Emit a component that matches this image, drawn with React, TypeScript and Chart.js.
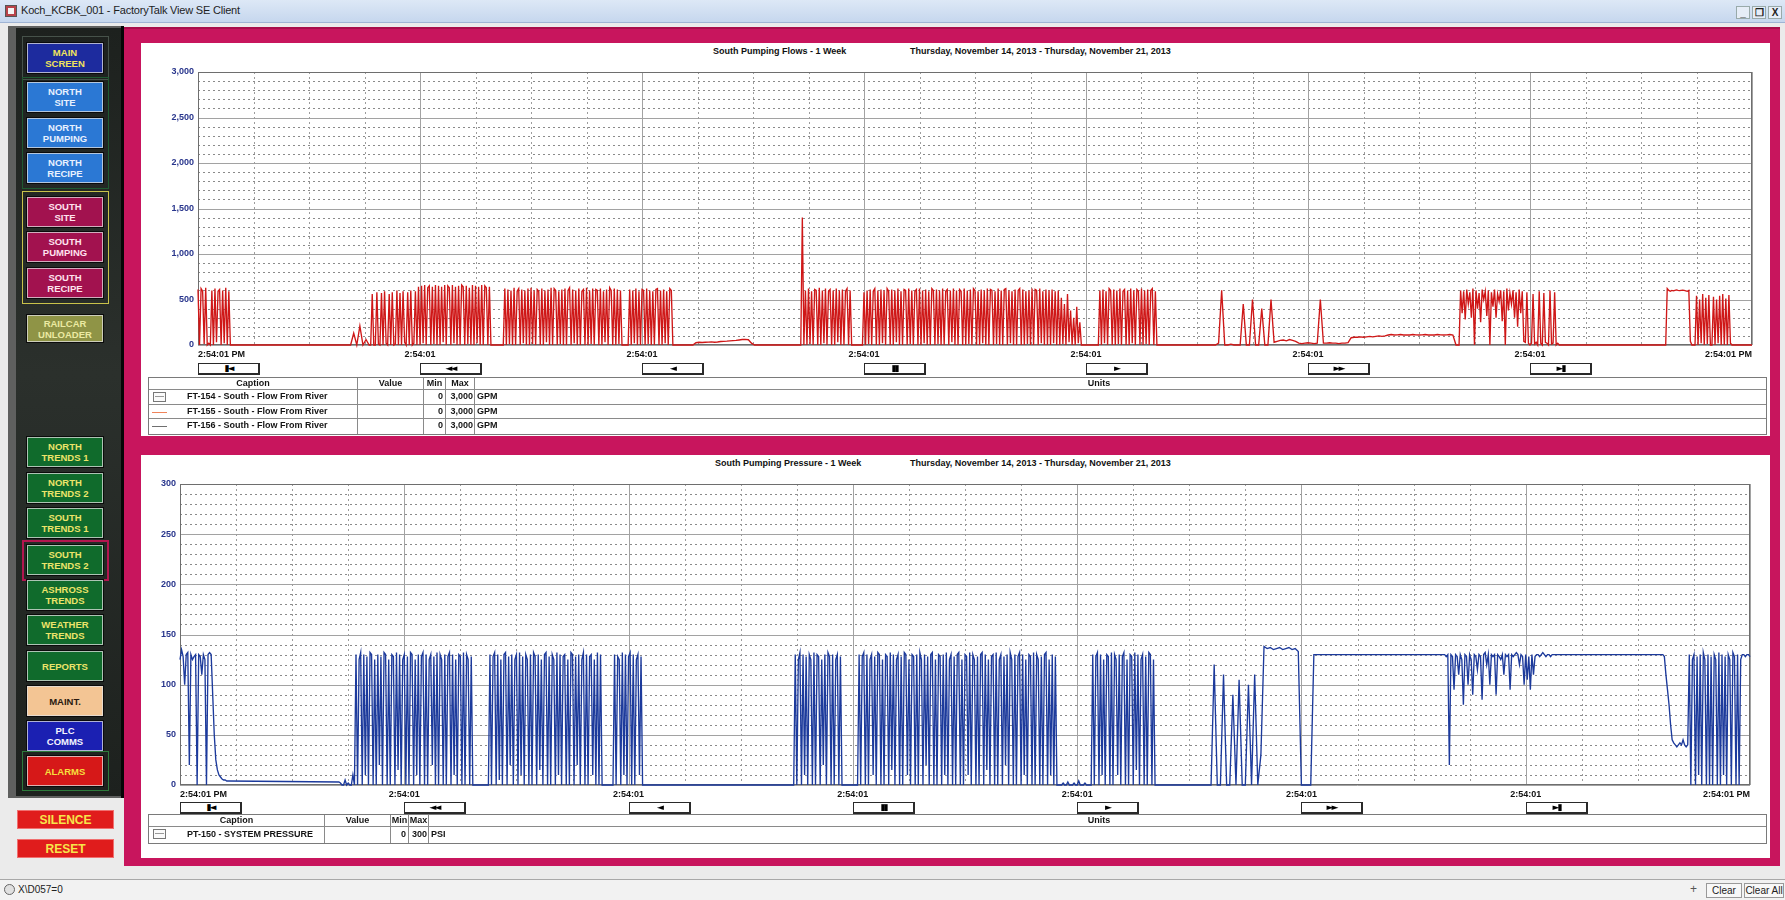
import React, { useEffect, useRef } from "react";
import { Chart, registerables } from "chart.js";

Chart.register(...registerables);

// ---------------- DATA ----------------
const WEEK_HOURS = 168;

const xTickLabels = ["2:54:01 PM", "2:54:01", "2:54:01", "2:54:01", "2:54:01", "2:54:01", "2:54:01", "2:54:01 PM"];
const flowTickValues = [0, 500, 1000, 1500, 2000, 2500, 3000];
const pressureTickValues = [0, 50, 100, 150, 200, 250, 300];
const navArrowLabels = ["\u25AE\u25C4", "\u25C4\u25C4", "\u25C4", "\u25AE\u25AE", "\u25BA", "\u25BA\u25BA", "\u25BA\u25AE"];

const flowTitle = "South Pumping Flows - 1 Week";
const pressureTitle = "South Pumping Pressure - 1 Week";
const dateRange = "Thursday, November 14, 2013 - Thursday, November 21, 2013";

const flowPenCaptions = ["FT-154 - South - Flow From River", "FT-155 - South - Flow From River", "FT-156 - South - Flow From River"];
const flowPenMin = ["0", "0", "0"];
const flowPenMax = ["3,000", "3,000", "3,000"];
const flowPenUnits = ["GPM", "GPM", "GPM"];
const pressurePenCaptions = ["PT-150 - SYSTEM PRESSURE"];
const pressurePenMin = ["0"];
const pressurePenMax = ["300"];
const pressurePenUnits = ["PSI"];

// FT-155 flow (GPM): logged runs, each with start hour and sample interval (hours)
const flowRunStartHours = [0, 16.5, 18.67, 53.5, 65, 110, 136.33, 158.67];
const flowRunStepHours = [1 / 6, 1 / 3, 1 / 6, 1 / 3, 1 / 6, 1 / 3, 1 / 6, 1 / 6];
const flowRun0 = [610, 0, 620, 590, 10, 630, 0, 20, 0, 600, 0, 620, 30, 590, 610, 0, 600, 20, 630, 0, 590, 0, 0];
const flowRun1 = [0, 130, 0, 210, 0, 60, 0];
const flowRun2 = [
  0,
  560, 0, 0, 580, 10, 0, 570, 0, 590, 20, 0, 560, 0, 580, 0, 10, 600, 0, 570, 0,
  590, 30, 0, 580, 0, 600, 0, 20, 590, 0,
  640, 0, 650, 20, 660, 0, 630, 650, 0, 640, 10, 660, 0, 650, 0, 640, 30, 660, 0, 650,
  630, 0, 660, 20, 640, 0, 650, 0, 660, 640, 0, 650, 10, 630, 0, 660, 0, 650, 20, 640,
  0, 660, 0, 650, 630, 0, 640, 0,
  0, 0, 0, 0, 0, 0, 0, 0,
  620, 0, 610, 10, 600, 0, 630, 0, 590, 620, 0, 610, 20, 600, 0, 620, 0, 630, 10, 600,
  0, 610, 590, 0, 620, 0, 600, 30, 610, 0, 630, 0, 620, 600, 0, 590, 10, 610, 0, 620,
  0, 600, 630, 0, 610, 20, 600, 0, 620, 0, 590, 610, 0, 630, 0, 600, 10, 620, 0, 610,
  600, 0, 620, 0, 590, 30, 610, 0, 630, 600, 0, 620, 0, 610, 10, 600, 0,
  0, 0, 0, 0,
  610, 0, 600, 20, 620, 0, 590, 0, 610, 600, 0, 620, 10, 600, 0, 590, 0, 610, 620, 0,
  600, 0, 610, 20, 590, 0, 620, 600, 0,
  0,
];
const flowRun3 = [0, 25, 30, 28, 30, 32, 35, 30, 33, 38, 40, 42, 45, 48, 50, 55, 60, 62, 58, 20, 0];
const flowRun4 = [
  0, 0, 1400, 0,
  600, 0, 620, 10, 590, 0, 610, 600, 0, 630, 0, 600, 20, 620, 0, 590, 610, 0, 600, 0,
  620, 30, 600, 0, 610, 0, 590, 620, 0, 600, 0,
  0, 0, 0, 0, 0, 0, 0,
  580, 0, 600, 10, 610, 0, 590, 620, 0, 600, 0, 610, 20, 600, 0, 620, 590, 0, 610, 0,
  600, 30, 620, 0, 590, 0, 610, 600, 0, 620, 10, 600, 0, 590, 610, 0, 620, 0, 600, 20,
  610, 0, 590, 0, 620, 600, 0, 610, 10, 600, 0, 620, 0, 590, 610, 0, 600, 30, 620, 0,
  600, 0, 610, 590, 0, 620, 0, 600, 10, 610, 0, 620, 600, 0, 590, 0, 610, 20, 600, 0,
  620, 0, 610, 600, 0, 590, 10, 620, 0, 600, 0, 610, 620, 0, 600, 20, 590, 0, 610, 0,
  600, 620, 0, 610, 0, 590, 10, 600, 0, 620, 0, 610, 600, 0, 620, 20, 590, 0, 610, 0,
  600, 0, 610, 20, 590, 0, 600, 0, 520, 10, 450, 0, 560, 30, 380, 0, 300, 0, 420, 20,
  250, 0,
  0, 0, 0, 0, 0, 0, 0, 0, 0, 0, 0,
  600, 0, 610, 20, 590, 0, 620, 600, 0, 610, 0, 600, 10, 620, 0, 590, 610, 0, 600, 0,
  620, 20, 600, 0, 610, 590, 0, 620, 0, 600, 10, 610, 0, 600, 620, 0, 590, 0, 0,
  0,
];
const flowRun5 = [
  0, 20, 600, 0, 0, 10, 0, 0, 0,
  450, 0, 0, 500, 0, 0, 400, 0, 0,
  500, 30, 40, 50, 55, 45, 60, 50, 40,
  20, 15, 20, 25, 20, 15, 20, 500, 20,
  20, 25, 20, 20, 15, 20, 20, 25,
  80, 85, 85, 90, 85, 90, 95, 90, 95, 100, 95, 100,
  110, 115, 110, 112, 115, 110, 112, 110, 115, 112, 110, 112, 115, 110, 112, 110, 115, 112, 110, 112, 115, 110,
  0,
];
const flowRun6 = [
  0, 600, 350, 590, 280, 610, 450, 580, 300, 620, 0, 600, 400, 570, 250, 610, 500, 590, 320, 600,
  0, 580, 420, 610, 300, 560, 480, 600, 260, 590, 0, 620, 380, 570, 450, 600, 300, 580, 200, 610,
  350, 590, 40, 30, 580, 20, 0, 20, 560, 10, 30, 0, 590, 20, 0, 570, 30, 20, 0, 600, 10, 20, 580, 0, 20, 0, 0, 0,
];
const flowRun7 = [
  0, 620, 600, 590, 600, 595, 600, 605, 600, 598, 600, 602, 600, 595, 590, 600, 40, 0, 0, 0,
  540, 0, 500, 20, 560, 0, 520, 10, 550, 0, 0, 530, 0, 500, 20, 540, 0, 560, 0, 510,
  0, 550, 20, 0, 0, 0, 0, 0, 0, 0, 0, 0, 0, 0, 0, 0, 0,
];
const flowRuns = [flowRun0, flowRun1, flowRun2, flowRun3, flowRun4, flowRun5, flowRun6, flowRun7];

// PT-150 system pressure (PSI)
const pressureRunStartHours = [0, 17, 65.67, 110.33, 135.33, 158.67];
const pressureRunStepHours = [1 / 6, 1 / 6, 1 / 6, 1 / 3, 1 / 6, 1 / 6];
const pressureRun0 = [125, 135, 128, 100, 130, 132, 20, 130, 125, 128, 130, 0, 130, 128, 110, 130, 125, 0, 130, 132, 130, 90, 50, 25, 15, 10, 8, 6, 5, 5, 4, 4];
const pressureRun1 = [
  3, 2, 0, 0, 5, 0, 2, 0, 0, 10, 0,
  130, 0, 125, 132, 0, 130, 10, 128, 0, 132, 130, 0, 125, 0, 130, 20, 128, 0, 132, 130,
  0, 125, 0, 130, 128, 0, 132, 15, 130, 0, 125, 130, 0, 128, 0, 132, 130, 0, 125, 10,
  130, 0, 128, 132, 0, 130, 0, 125, 130, 20, 128, 0, 132, 0, 130, 125, 0, 130, 0, 128,
  132, 0, 130, 10, 125, 0, 130, 128, 0, 132, 0, 130, 125, 0, 128, 0, 0,
  0, 0, 0, 0, 0, 0, 0, 0, 0,
  130, 0, 128, 132, 0, 130, 5, 125, 0, 130, 132, 0, 128, 20, 130, 0, 125, 130, 0, 132,
  10, 128, 0, 130, 125, 0, 130, 0, 132, 128, 0, 130, 15, 125, 0, 130, 132, 0, 128, 0,
  130, 125, 0, 132, 10, 130, 0, 128, 130, 0, 125, 0, 132, 130, 0, 128, 20, 130, 0, 125,
  132, 0, 130, 0, 128, 130, 10, 125, 0, 132, 0, 130, 0,
  0, 0, 0, 0, 0, 0, 0,
  130, 0, 128, 125, 0, 132, 10, 130, 0, 128, 132, 0, 130, 0, 125, 130, 10, 128, 0, 0,
  0,
];
const pressureRun2 = [
  0,
  130, 0, 125, 132, 0, 130, 10, 128, 0, 130, 125, 0, 132, 0, 130, 128, 0, 125, 20, 130,
  0, 132, 128, 0, 130, 0, 125, 130, 0, 128, 0,
  0, 0, 0, 0, 0, 0, 0, 0, 0, 0,
  130, 0, 128, 132, 0, 130, 0, 125, 130, 10, 128, 0, 132, 130, 0, 125, 0, 130, 128, 0,
  132, 15, 130, 0, 125, 130, 0, 128, 0, 132, 130, 10, 125, 0, 130, 128, 0, 130, 0, 132,
  125, 0, 130, 20, 128, 0, 130, 132, 0, 125, 0, 130, 128, 0, 130, 10, 132, 0, 125, 130,
  0, 128, 0, 130, 132, 0, 125, 0, 130, 128, 10, 132, 0, 130, 125, 0, 128, 0, 130, 132,
  0, 130, 15, 125, 0, 128, 130, 0, 132, 0, 125, 130, 0, 128, 20, 130, 0, 132, 125, 0,
  130, 0, 128, 132, 0, 130, 10, 125, 0, 130, 128, 0, 132, 0, 130, 125, 0, 128, 0, 130,
  132, 0, 125, 10, 130, 0, 128, 0, 0,
  0, 0, 2, 0, 0, 3, 0, 0, 0, 2, 0, 0, 4, 0, 0, 0, 2, 0, 0, 0, 0,
  130, 0, 128, 132, 0, 130, 10, 125, 0, 130, 128, 0, 132, 0, 130, 125, 10, 130, 0, 128,
  132, 0, 125, 0, 130, 128, 0, 132, 15, 130, 0, 125, 130, 0, 128, 0, 132, 130, 0, 125, 0,
  0,
];
const pressureRun3 = [0, 120, 0, 0, 110, 0, 0, 90, 0, 105, 0, 0, 100, 0, 110, 0, 30, 138, 136, 137, 135, 136, 137, 135, 136, 137, 135, 136, 133, 0, 0, 0, 0, 130];
const pressureRun4 = [
  130, 128, 130, 20, 130, 128, 95, 130, 128, 110, 130, 125, 80, 130, 128, 100, 130, 125, 90, 130,
  128, 115, 130, 128, 85, 130, 132, 120, 130, 100, 130, 128, 130, 90, 130, 128, 125, 130, 110, 130,
  128, 130, 95, 130, 128, 130, 132, 130, 120, 130, 128, 100, 130, 105, 128, 95, 130, 110, 128, 130,
  130, 128, 130, 132, 130, 128, 130, 130, 128, 130,
];
const pressureRun5 = [
  130, 128, 110, 95, 80, 60, 45, 42, 40, 38, 40, 42, 40, 45, 40, 38, 40, 130, 0, 125,
  130, 0, 128, 10, 130, 0, 132, 125, 0, 130, 0, 128, 0, 130, 125, 0, 132, 0, 130, 10,
  128, 0, 130, 125, 0, 132, 128, 0, 130, 0, 125, 130, 130, 128, 130, 130, 128,
];
const pressureRuns = [pressureRun0, pressureRun1, pressureRun2, pressureRun3, pressureRun4, pressureRun5];

// ---------------- HELPERS ----------------
const FONT = '"Liberation Sans", Arial, sans-serif';
const PINK = "#c8155d";

function buildPoints(starts: number[], steps: number[], runs: number[][]) {
  const pts: { x: number; y: number }[] = [];
  runs.forEach((vals, r) => vals.forEach((v, i) => pts.push({ x: starts[r] + i * steps[r], y: v })));
  return pts;
}

function gridPlugin(o: { yMax: number; yMajor: number; yMinor: number; yTicks: number[] }) {
  return {
    id: "trendGrid",
    beforeDatasetsDraw(chart: any) {
      const { ctx, chartArea: a, scales } = chart;
      const x = scales.x;
      const y = scales.y;
      ctx.save();
      ctx.lineWidth = 1;
      for (let v = 0; v <= o.yMax; v += o.yMinor) {
        const py = Math.round(y.getPixelForValue(v)) + 0.5;
        const major = v % o.yMajor === 0;
        ctx.strokeStyle = major ? "#a2a2a2" : "#8a8a8a";
        ctx.setLineDash(major ? [] : [2, 3]);
        ctx.beginPath();
        ctx.moveTo(a.left, py);
        ctx.lineTo(a.right, py);
        ctx.stroke();
      }
      for (let h = 0; h <= WEEK_HOURS; h += 6) {
        const px = Math.round(x.getPixelForValue(h)) + 0.5;
        const major = h % 24 === 0;
        ctx.strokeStyle = major ? "#a2a2a2" : "#9c9c9c";
        ctx.setLineDash(major ? [] : [2, 3]);
        ctx.beginPath();
        ctx.moveTo(px, a.top);
        ctx.lineTo(px, a.bottom);
        ctx.stroke();
      }
      ctx.setLineDash([]);
      ctx.strokeStyle = "#6e6e6e";
      ctx.strokeRect(a.left + 0.5, a.top + 0.5, a.right - a.left - 1, a.bottom - a.top - 1);
      ctx.font = `bold 9px ${FONT}`;
      ctx.fillStyle = "#28358c";
      ctx.textAlign = "right";
      ctx.textBaseline = "middle";
      o.yTicks.forEach((v) => ctx.fillText(v.toLocaleString("en-US"), a.left - 4, y.getPixelForValue(v)));
      ctx.fillStyle = "#111";
      xTickLabels.forEach((lab, i) => {
        const px = x.getPixelForValue(i * 24);
        ctx.textAlign = i === 0 ? "left" : i === xTickLabels.length - 1 ? "right" : "center";
        ctx.fillText(lab, px, a.bottom + 10);
      });
      ctx.restore();
    },
  };
}

type Rect = { left: number; top: number; width: number; height: number };

function TrendChart(p: {
  rect: Rect;
  padding: { left: number; top: number; right: number; bottom: number };
  points: { x: number; y: number }[];
  color: string;
  lineWidth: number;
  yMax: number;
  yMajor: number;
  yMinor: number;
  yTicks: number[];
}) {
  const ref = useRef<HTMLCanvasElement | null>(null);
  useEffect(() => {
    const chart = new Chart(ref.current as HTMLCanvasElement, {
      type: "line",
      data: {
        datasets: [
          {
            data: p.points,
            borderColor: p.color,
            borderWidth: p.lineWidth,
            pointRadius: 0,
            tension: 0,
            fill: false,
            clip: 3,
          } as any,
        ],
      },
      options: {
        animation: false,
        responsive: false,
        maintainAspectRatio: false,
        events: [],
        layout: { padding: p.padding },
        plugins: { legend: { display: false }, tooltip: { enabled: false } },
        scales: {
          x: { type: "linear", display: false, min: 0, max: WEEK_HOURS },
          y: { type: "linear", display: false, min: 0, max: p.yMax },
        },
      },
      plugins: [gridPlugin({ yMax: p.yMax, yMajor: p.yMajor, yMinor: p.yMinor, yTicks: p.yTicks })],
    });
    return () => chart.destroy();
  }, []);
  return (
    <canvas
      ref={ref}
      width={p.rect.width}
      height={p.rect.height}
      style={{ position: "absolute", left: p.rect.left, top: p.rect.top, width: p.rect.width, height: p.rect.height }}
    />
  );
}

function NavButton(p: { lines: string[]; top: number; height?: number; bg: string; fg: string }) {
  return (
    <div
      style={{
        position: "absolute",
        left: 27,
        top: p.top,
        width: 76,
        height: p.height || 30,
        background: p.bg,
        color: p.fg,
        border: "1px solid rgba(225,225,225,0.75)",
        boxShadow: "0 0 0 1px #0b0b0b",
        boxSizing: "border-box",
        display: "flex",
        flexDirection: "column",
        alignItems: "center",
        justifyContent: "center",
        font: `bold 9.5px ${FONT}`,
        lineHeight: "11px",
        textAlign: "center",
      }}
    >
      {p.lines.map((l, i) => (
        <div key={i}>{l}</div>
      ))}
    </div>
  );
}

function ArrowButtons(p: { left: number; width: number; top: number }) {
  return (
    <>
      {navArrowLabels.map((lab, i) => (
        <div
          key={i}
          style={{
            position: "absolute",
            left: Math.round(p.left + (i * p.width) / 7),
            top: p.top,
            width: 62,
            height: 12,
            background: "#fff",
            border: "1px solid #2a2a2a",
            borderRightWidth: 2,
            borderBottomWidth: 2,
            boxSizing: "border-box",
            font: `9px "DejaVu Sans", sans-serif`,
            lineHeight: "9px",
            textAlign: "center",
            color: "#000",
            letterSpacing: "-2px",
          }}
        >
          {lab}
        </div>
      ))}
    </>
  );
}

function PenIcon(p: { kind: string }) {
  if (p.kind === "box")
    return (
      <div style={{ position: "absolute", left: 4, top: 2, width: 13, height: 10, border: "1px solid #777", boxSizing: "border-box", background: "#fafafa" }}>
        <div style={{ position: "absolute", left: 1, right: 1, top: 3, height: 1, background: "#999" }} />
      </div>
    );
  return <div style={{ position: "absolute", left: 3, top: 7, width: 15, height: 1, background: p.kind === "orange" ? "#f0845a" : "#6f6f6f" }} />;
}

function LegendTable(p: {
  left: number;
  top: number;
  width: number;
  cols: number[];
  headerH: number;
  rowH: number;
  unitsX: number;
  captions: string[];
  mins: string[];
  maxs: string[];
  units: string[];
  icons: string[];
}) {
  const [cW, vW, mnW, mxW] = p.cols;
  const cell = (left: number, w: number, extra: any = {}) => ({
    position: "absolute" as const,
    left,
    width: w,
    top: 0,
    bottom: 0,
    borderRight: "1px solid #8a8a8a",
    boxSizing: "border-box" as const,
    ...extra,
  });
  const txt = { font: `bold 9px ${FONT}`, color: "#141414", whiteSpace: "nowrap" as const };
  const rowsH = p.headerH + p.rowH * p.captions.length;
  return (
    <div style={{ position: "absolute", left: p.left, top: p.top, width: p.width, height: rowsH, border: "1px solid #7a7a7a", background: "#fff", boxSizing: "content-box" }}>
      <div style={{ position: "absolute", left: 0, top: 0, width: p.width, height: p.headerH, borderBottom: "1px solid #8a8a8a", boxSizing: "border-box", ...txt, lineHeight: `${p.headerH - 1}px` }}>
        <div style={cell(0, cW, { textAlign: "center" })}>Caption</div>
        <div style={cell(cW, vW, { textAlign: "center" })}>Value</div>
        <div style={cell(cW + vW, mnW, { textAlign: "center" })}>Min</div>
        <div style={cell(cW + vW + mnW, mxW, { textAlign: "center" })}>Max</div>
        <div style={{ position: "absolute", left: p.unitsX - p.left - 20, width: 40, textAlign: "center" }}>Units</div>
      </div>
      {p.captions.map((c, i) => (
        <div
          key={i}
          style={{
            position: "absolute",
            left: 0,
            top: p.headerH + i * p.rowH,
            width: p.width,
            height: p.rowH,
            borderBottom: i < p.captions.length - 1 ? "1px solid #8a8a8a" : "none",
            boxSizing: "border-box",
            ...txt,
            lineHeight: `${p.rowH - 1}px`,
          }}
        >
          <div style={cell(0, cW)}>
            <PenIcon kind={p.icons[i]} />
            <span style={{ position: "absolute", left: 38 }}>{c}</span>
          </div>
          <div style={cell(cW, vW)} />
          <div style={cell(cW + vW, mnW, { textAlign: "right", paddingRight: 2 })}>{p.mins[i]}</div>
          <div style={cell(cW + vW + mnW, mxW, { textAlign: "right", paddingRight: 1 })}>{p.maxs[i]}</div>
          <div style={{ position: "absolute", left: cW + vW + mnW + mxW + 2 }}>{p.units[i]}</div>
        </div>
      ))}
    </div>
  );
}

function Box(p: { l: number; t: number; w: number; h: number; style?: any; children?: any }) {
  return <div style={{ position: "absolute", left: p.l, top: p.t, width: p.w, height: p.h, boxSizing: "border-box", ...p.style }}>{p.children}</div>;
}

// ---------------- APP ----------------
export default function App() {
  const flowPoints = buildPoints(flowRunStartHours, flowRunStepHours, flowRuns);
  const pressurePoints = buildPoints(pressureRunStartHours, pressureRunStepHours, pressureRuns);

  const green = { bg: "#106b2c", fg: "#ece46a" };
  return (
    <div style={{ position: "fixed", left: 0, top: 0, width: 1785, height: 900, overflow: "hidden", background: "#ebebeb", fontFamily: FONT }}>
      {/* title bar */}
      <Box l={0} t={0} w={1785} h={23} style={{ background: "linear-gradient(#dde8f6, #c6d7ee)", borderBottom: "1px solid #9fb4d4" }}>
        <Box l={5} t={5} w={12} h={12} style={{ background: "#b8434a", border: "1px solid #555" }}>
          <Box l={2} t={2} w={6} h={6} style={{ background: "#f4f4f4" }} />
        </Box>
        <div style={{ position: "absolute", left: 21, top: 4, font: `11px ${FONT}`, color: "#1e1e1e", letterSpacing: "-0.2px" }}>Koch_KCBK_001 - FactoryTalk View SE Client</div>
        {["_", "\u2750", "X"].map((s, i) => (
          <Box key={i} l={1736 + i * 16} t={6} w={14} h={13} style={{ font: `bold 10px ${FONT}`, textAlign: "center", lineHeight: "12px", color: "#222", background: "#e6edf7", border: "1px solid #9aa" }}>
            {s}
          </Box>
        ))}
      </Box>

      {/* left navigation panel */}
      <Box l={8} t={26} w={116} h={772} style={{ background: "#5f605f" }} />
      <Box l={16} t={28} w={105} h={768} style={{ background: "linear-gradient(#1d211e, #2b302c 45%, #1d211e)" }} />
      <Box l={121} t={26} w={3} h={772} style={{ background: "#050505" }} />
      <Box l={22} t={36} w={87} h={44} style={{ border: "1px solid #46524a" }} />
      <Box l={22} t={77} w={87} h={112} style={{ border: "1px solid #1f5a31" }} />
      <Box l={22} t={191} w={87} h={113} style={{ border: "1px solid #c9c24a" }} />
      <NavButton lines={["MAIN", "SCREEN"]} top={43} bg="#1d2b9e" fg="#f1e35c" />
      <NavButton lines={["NORTH", "SITE"]} top={82} bg="#2b78d4" fg="#e8f1ff" />
      <NavButton lines={["NORTH", "PUMPING"]} top={118} bg="#2b78d4" fg="#e8f1ff" />
      <NavButton lines={["NORTH", "RECIPE"]} top={153} bg="#2b78d4" fg="#e8f1ff" />
      <NavButton lines={["SOUTH", "SITE"]} top={197} bg="#a2124f" fg="#ffe2ee" />
      <NavButton lines={["SOUTH", "PUMPING"]} top={232} bg="#a2124f" fg="#ffe2ee" />
      <NavButton lines={["SOUTH", "RECIPE"]} top={268} bg="#a2124f" fg="#ffe2ee" />
      <NavButton lines={["RAILCAR", "UNLOADER"]} top={315} height={27} bg="#8f9446" fg="#ebeaa2" />
      <NavButton lines={["NORTH", "TRENDS 1"]} top={437} {...green} />
      <NavButton lines={["NORTH", "TRENDS 2"]} top={473} {...green} />
      <NavButton lines={["SOUTH", "TRENDS 1"]} top={508} {...green} />
      <Box l={22} t={540} w={87} h={41} style={{ border: "2px solid #b3164f" }} />
      <NavButton lines={["SOUTH", "TRENDS 2"]} top={545} {...green} />
      <NavButton lines={["ASHROSS", "TRENDS"]} top={580} {...green} />
      <NavButton lines={["WEATHER", "TRENDS"]} top={615} {...green} />
      <NavButton lines={["REPORTS"]} top={651} {...green} />
      <NavButton lines={["MAINT."]} top={686} bg="#f3c594" fg="#2a1a10" />
      <NavButton lines={["PLC", "COMMS"]} top={721} bg="#1b20b2" fg="#f4f4ff" />
      <Box l={22} t={751} w={87} h={40} style={{ border: "1px solid #2d7a3b" }} />
      <NavButton lines={["ALARMS"]} top={756} bg="#d61818" fg="#f6df3e" />

      {/* silence / reset */}
      {[["SILENCE", 810], ["RESET", 839]].map(([t, y]) => (
        <Box key={t as string} l={17} t={y as number} w={97} h={19} style={{ background: "#e01c1c", color: "#f7e54a", font: `bold 12px ${FONT}`, textAlign: "center", lineHeight: "18px", border: "1px solid #f07070" }}>
          {t}
        </Box>
      ))}

      {/* pink trend frames */}
      <Box l={124} t={27} w={1656} h={839} style={{ background: PINK, borderTop: "2px solid #a80e4a" }} />
      <Box l={141} t={43} w={1629} h={393} style={{ background: "#fff" }} />
      <Box l={141} t={455} w={1629} h={403} style={{ background: "#fff" }} />

      {/* top trend: flows */}
      <div style={{ position: "absolute", left: 713, top: 46, font: `bold 9px ${FONT}`, color: "#111", whiteSpace: "nowrap" }}>{flowTitle}</div>
      <div style={{ position: "absolute", left: 910, top: 46, font: `bold 9px ${FONT}`, color: "#111", whiteSpace: "nowrap" }}>{dateRange}</div>
      <TrendChart
        rect={{ left: 141, top: 43, width: 1629, height: 334 }}
        padding={{ left: 57, top: 29, right: 18, bottom: 32 }}
        points={flowPoints}
        color="#cf1717"
        lineWidth={1.35}
        yMax={3000}
        yMajor={500}
        yMinor={100}
        yTicks={flowTickValues}
      />
      <ArrowButtons left={198} width={1554} top={363} />
      <LegendTable
        left={148}
        top={377}
        width={1617}
        cols={[209, 66, 22, 29]}
        headerH={12}
        rowH={14.5}
        unitsX={1098}
        captions={flowPenCaptions}
        mins={flowPenMin}
        maxs={flowPenMax}
        units={flowPenUnits}
        icons={["box", "orange", "gray"]}
      />

      {/* bottom trend: pressure */}
      <div style={{ position: "absolute", left: 715, top: 458, font: `bold 9px ${FONT}`, color: "#111", whiteSpace: "nowrap" }}>{pressureTitle}</div>
      <div style={{ position: "absolute", left: 910, top: 458, font: `bold 9px ${FONT}`, color: "#111", whiteSpace: "nowrap" }}>{dateRange}</div>
      <TrendChart
        rect={{ left: 141, top: 455, width: 1629, height: 356 }}
        padding={{ left: 39, top: 29, right: 20, bottom: 26 }}
        points={pressurePoints}
        color="#1c3a9c"
        lineWidth={1.35}
        yMax={300}
        yMajor={50}
        yMinor={10}
        yTicks={pressureTickValues}
      />
      <ArrowButtons left={180} width={1570} top={802} />
      <LegendTable
        left={148}
        top={814}
        width={1617}
        cols={[176, 66, 18, 20]}
        headerH={12}
        rowH={16}
        unitsX={1098}
        captions={pressurePenCaptions}
        mins={pressurePenMin}
        maxs={pressurePenMax}
        units={pressurePenUnits}
        icons={["box"]}
      />

      {/* status bar */}
      <Box l={0} t={879} w={1785} h={21} style={{ background: "#f2f2f2", borderTop: "1px solid #a8a8a8" }}>
        <Box l={4} t={4} w={11} h={11} style={{ borderRadius: 6, border: "1px solid #666", background: "#e0e0e0" }} />
        <div style={{ position: "absolute", left: 18, top: 4, font: `10px ${FONT}`, color: "#222" }}>X\D057=0</div>
        <div style={{ position: "absolute", left: 1690, top: 2, font: `12px ${FONT}`, color: "#555" }}>+</div>
        <Box l={1706} t={3} w={36} h={15} style={{ border: "1px solid #999", background: "#f8f8f8", font: `10px ${FONT}`, textAlign: "center", lineHeight: "13px", color: "#222" }}>
          Clear
        </Box>
        <Box l={1744} t={3} w={40} h={15} style={{ border: "1px solid #999", background: "#f8f8f8", font: `10px ${FONT}`, textAlign: "center", lineHeight: "13px", color: "#222" }}>
          Clear All
        </Box>
      </Box>
    </div>
  );
}
